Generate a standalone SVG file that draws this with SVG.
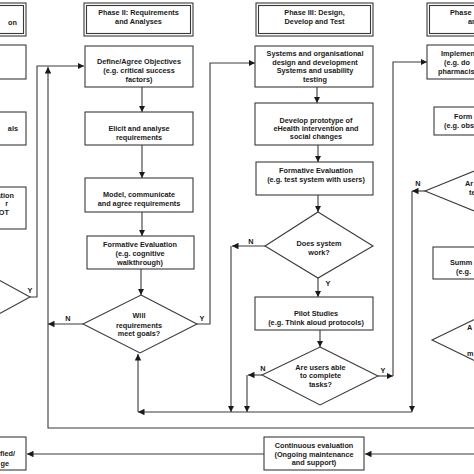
<svg xmlns="http://www.w3.org/2000/svg" width="474" height="474" viewBox="0 0 474 474">
<defs>
<style>
.bx{fill:#fff;stroke:#3a3a3a;stroke-width:1.1}
.hd{fill:#fff;stroke:#3a3a3a;stroke-width:1.1}
.ln{fill:none;stroke:#3a3a3a;stroke-width:1.1}
text{font-family:"Liberation Sans",Arial,sans-serif;font-weight:bold;font-size:7.3px;fill:#1a1a1a}
.c{text-anchor:middle}
.e{text-anchor:end}
</style>
<marker id="ah" viewBox="0 0 10 10" refX="10" refY="5" markerWidth="6.5" markerHeight="6.5" markerUnits="userSpaceOnUse" orient="auto">
<path d="M0,0 L10,5 L0,10 Z" fill="#1a1a1a"/>
</marker>
</defs>
<rect width="474" height="474" fill="#fff"/>

<g id="connectors">
<path class="ln" d="M30,297 H37 V66 H84" marker-end="url(#ah)"/>
<path class="ln" d="M474,428 H48 V67" marker-end="url(#ah)"/>
<path class="ln" d="M142,87 V112" marker-end="url(#ah)"/>
<path class="ln" d="M142,145 V178" marker-end="url(#ah)"/>
<path class="ln" d="M142,212 V236" marker-end="url(#ah)"/>
<path class="ln" d="M141,269 V295" marker-end="url(#ah)"/>
<path class="ln" d="M83,324 H48" marker-end="url(#ah)"/>
<path class="ln" d="M197,324 H210 V63 H255" marker-end="url(#ah)"/>
<path class="ln" d="M317,87 V103" marker-end="url(#ah)"/>
<path class="ln" d="M318,145 V162" marker-end="url(#ah)"/>
<path class="ln" d="M318,195 V212" marker-end="url(#ah)"/>
<path class="ln" d="M265,246 H232" marker-end="url(#ah)"/>
<path class="ln" d="M231,246 V412" marker-end="url(#ah)"/>
<path class="ln" d="M318,278 V297" marker-end="url(#ah)"/>
<path class="ln" d="M320,330 V347" marker-end="url(#ah)"/>
<path class="ln" d="M262,375 H248" marker-end="url(#ah)"/>
<path class="ln" d="M247,375 V412" marker-end="url(#ah)"/>
<path class="ln" d="M378,376 H393" marker-end="url(#ah)"/>
<path class="ln" d="M393,376 V62 H427" marker-end="url(#ah)"/>
<path class="ln" d="M425,191 H412" marker-end="url(#ah)"/>
<path class="ln" d="M412,191 V412" marker-end="url(#ah)"/>
<path class="ln" d="M412,412 H138" marker-end="url(#ah)"/>
<path class="ln" d="M138,412 V354" marker-end="url(#ah)"/>
<path class="ln" d="M474,454 H365" marker-end="url(#ah)"/>
<path class="ln" d="M264,454 H27" marker-end="url(#ah)"/>
<text x="30" y="292.5" class="c">Y</text>
<text x="68" y="320.5" class="c">N</text>
<text x="202" y="320.5" class="c">Y</text>
<text x="251" y="243.5" class="c">N</text>
<text x="328" y="286" class="c">Y</text>
<text x="263" y="370.5" class="c">N</text>
<text x="383" y="373" class="c">Y</text>
<text x="418" y="185.5" class="c">N</text>
</g>

<g id="p1-header">
<rect class="hd" x="-60" y="3" width="86" height="33"/>
<rect class="hd" x="-58" y="5.5" width="81.5" height="28"/>
<text x="17" y="24.5" class="e">on</text>
</g>
<g id="p1-box2"><rect class="bx" x="-60" y="45" width="86" height="34"/></g>
<g id="p1-box3"><rect class="bx" x="-60" y="112" width="86" height="33"/>
<text x="18" y="131" class="e">als</text></g>
<g id="p1-box4"><rect class="bx" x="-60" y="187" width="86" height="42"/>
<text x="14" y="197.5" class="e">ation</text>
<text x="8" y="206" class="e">r</text>
<text x="9" y="215" class="e">OT</text></g>
<g id="p1-diamond"><polygon class="bx" points="-27,266 30,297 -27,328 -84,297"/></g>
<g id="p1-bottom"><rect class="bx" x="-60" y="437" width="86" height="33"/>
<text x="15" y="455.5" class="e">fied/</text>
<text x="9" y="465.5" class="e">ge</text></g>

<g id="p2-header">
<rect class="hd" x="84" y="3" width="109" height="33"/>
<rect class="hd" x="86.5" y="5.5" width="104" height="28"/>
<text x="138.5" y="15.4" class="c">Phase II: Requirements</text>
<text x="138.5" y="24.4" class="c">and Analyses</text>
</g>
<g id="p2-define"><rect class="bx" x="85" y="46" width="108" height="41"/>
<text x="139" y="64.3" class="c">Define/Agree Objectives</text>
<text x="139" y="73.3" class="c">(e.g. critical success</text>
<text x="139" y="82" class="c">factors)</text></g>
<g id="p2-elicit"><rect class="bx" x="85" y="112" width="108" height="33"/>
<text x="139" y="131" class="c">Elicit and analyse</text>
<text x="139" y="139.5" class="c">requirements</text></g>
<g id="p2-model"><rect class="bx" x="85" y="178" width="108" height="34"/>
<text x="139" y="197" class="c">Model, communicate</text>
<text x="139" y="206" class="c">and agree requirements</text></g>
<g id="p2-formative"><rect class="bx" x="87" y="236" width="107" height="33"/>
<text x="140" y="247" class="c">Formative Evaluation</text>
<text x="140" y="256" class="c">(e.g. cognitive</text>
<text x="140" y="265" class="c">walkthrough)</text></g>
<g id="p2-diamond"><polygon class="bx" points="141,295 197,324 140,353 83,324"/>
<text x="139" y="318.3" class="c">Will</text>
<text x="139" y="327.6" class="c">requirements</text>
<text x="139" y="336.3" class="c">meet goals?</text></g>

<g id="p3-header">
<rect class="hd" x="256" y="3" width="117" height="33"/>
<rect class="hd" x="258.5" y="5.5" width="112" height="28"/>
<text x="314.5" y="15.4" class="c">Phase III: Design,</text>
<text x="314.5" y="24.4" class="c">Develop and Test</text>
</g>
<g id="p3-systems"><rect class="bx" x="255" y="46" width="118" height="41"/>
<text x="315" y="56" class="c">Systems and organisational</text>
<text x="315" y="65" class="c">design and development</text>
<text x="315" y="73.3" class="c">Systems and usability</text>
<text x="315" y="82" class="c">testing</text></g>
<g id="p3-develop"><rect class="bx" x="255" y="103" width="118" height="42"/>
<text x="316" y="122.6" class="c">Develop prototype of</text>
<text x="316" y="131" class="c">eHealth intervention and</text>
<text x="316" y="139.3" class="c">social changes</text></g>
<g id="p3-formative"><rect class="bx" x="256" y="162" width="117" height="33"/>
<text x="316" y="172.6" class="c">Formative Evaluation</text>
<text x="316" y="181.6" class="c">(e.g. test system with users)</text></g>
<g id="p3-diamond1"><polygon class="bx" points="318,212 373,246 318,278 265,246"/>
<text x="319" y="246" class="c">Does system</text>
<text x="319" y="255.3" class="c">work?</text></g>
<g id="p3-pilot"><rect class="bx" x="255" y="297" width="118" height="33"/>
<text x="316" y="316" class="c">Pilot Studies</text>
<text x="316" y="325" class="c">(e.g. Think aloud protocols)</text></g>
<g id="p3-diamond2"><polygon class="bx" points="320,347 378,376 320,405 262,375"/>
<text x="320.5" y="370" class="c">Are users able</text>
<text x="320.5" y="378.3" class="c">to complete</text>
<text x="320.5" y="386.6" class="c">tasks?</text></g>
<g id="continuous"><rect class="bx" x="264" y="437" width="100" height="33"/>
<text x="314" y="447.6" class="c">Continuous evaluation</text>
<text x="314" y="456.6" class="c">(Ongoing maintenance</text>
<text x="314" y="465" class="c">and support)</text></g>

<g id="p4-header">
<rect class="hd" x="427" y="3" width="117" height="33"/>
<rect class="hd" x="429.5" y="5.5" width="112" height="28"/>
<text x="450" y="15.4">Phase</text>
<text x="468" y="24.4">an</text>
</g>
<g id="p4-implement"><rect class="bx" x="427" y="45" width="117" height="34"/>
<text x="441" y="56">Implemen</text>
<text x="444" y="65">(e.g. do</text>
<text x="438" y="73.5">pharmacis</text></g>
<g id="p4-formative"><rect class="bx" x="434" y="107" width="110" height="28"/>
<text x="454" y="118.5">Form</text>
<text x="444" y="127.5">(e.g. obs</text></g>
<g id="p4-diamond1"><polygon class="bx" points="484,167 543,191 484,215 425,191"/>
<text x="465" y="185.5">Ar</text>
<text x="469" y="195">te</text></g>
<g id="p4-summative"><rect class="bx" x="433" y="247" width="110" height="32"/>
<text x="450" y="264.5">Summ</text>
<text x="456" y="274">(e.g.</text></g>
<g id="p4-diamond2"><polygon class="bx" points="490,312 548,340 490,368 432,340"/>
<text x="467" y="330">A</text>
<text x="467" y="355.5">m</text></g>
</svg>
